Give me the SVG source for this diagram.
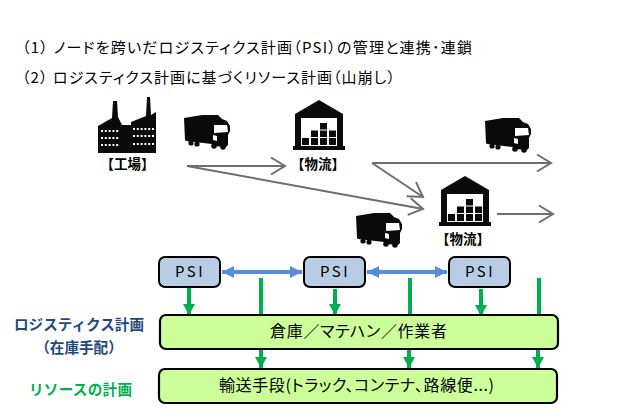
<svg xmlns="http://www.w3.org/2000/svg" width="634" height="420" viewBox="0 0 634 420">
  <style>
    text { font-family: "Noto Sans CJK JP", "Liberation Sans", sans-serif; fill: #000; }
    .head { font-size: 15px; font-feature-settings: "palt"; }
    .tag { font-size: 13.500px; font-weight: 700; text-anchor: middle; }
    .box { font-size: 16px; text-anchor: middle; font-feature-settings: "palt"; }
    .psi-label { font-size: 15px; letter-spacing: 2.500px; text-anchor: middle; }
    .psi { fill: #b8cce4; stroke: #000; stroke-width: 2; }
    .res { fill: #ccff99; stroke: #000; stroke-width: 2.2; }
    .flow { fill: none; stroke: #6e6e6e; stroke-width: 2; }
    .link { stroke: #558ed5; stroke-width: 4; fill: none; }
    .down { stroke: #00b050; stroke-width: 4; fill: none; }
    .side { font-size: 14.600px; font-weight: 700; text-anchor: middle; }
    .navy { fill: #1f497d; }
    .green { fill: #00b050; }
  </style>
  <defs>
    <marker id="headOpen" markerUnits="userSpaceOnUse" markerWidth="20" markerHeight="20" refX="16" refY="10" orient="auto">
      <path d="M2 1.500L16 10L2 18.500" fill="none" stroke="#6e6e6e" stroke-width="2"/>
    </marker>
    <marker id="headBlue" markerUnits="userSpaceOnUse" markerWidth="14" markerHeight="14" refX="12" refY="7" orient="auto-start-reverse">
      <path d="M0 1L12 7L0 13z" fill="#558ed5"/>
    </marker>
    <marker id="headGreen" markerUnits="userSpaceOnUse" markerWidth="14" markerHeight="14" refX="11" refY="7" orient="auto">
      <path d="M0 1L11 7L0 13z" fill="#00b050"/>
    </marker>
    <g id="truck">
      <path d="M0 4L18 1L34 1L38 5L43 7L46 12L46 17L44 21L44 31L42 33L30 32L28 30L2 27L1 26z" fill="#0a0a0a"/>
      <path d="M30 11L43 11L44 18L30 19z" fill="#fff"/>
      <path d="M29 21L33 22L33 27L29 26z" fill="#fff"/>
      <circle cx="7" cy="29" r="2.600" fill="#0a0a0a"/>
      <circle cx="13" cy="30" r="2.600" fill="#0a0a0a"/>
      <circle cx="30" cy="32" r="2.800" fill="#0a0a0a"/>
      <circle cx="39" cy="33" r="2.800" fill="#0a0a0a"/>
    </g>
    <g id="warehouse">
      <path d="M2 14L26 0L50 14L50 46L52 46L52 50L0 50L0 46L2 46z" fill="#0a0a0a"/>
      <rect x="8" y="18" width="36" height="28" fill="#fff"/>
      <g fill="#0a0a0a">
        <rect x="9" y="38" width="7" height="7"/>
        <rect x="18" y="38" width="7" height="7"/>
        <rect x="27" y="38" width="7" height="7"/>
        <rect x="36" y="38" width="7" height="7"/>
        <rect x="18" y="30.500" width="7" height="6.500"/>
        <rect x="27" y="30.500" width="7" height="6.500"/>
        <rect x="36" y="30.500" width="7" height="6.500"/>
        <rect x="27" y="23" width="7" height="6.500"/>
      </g>
    </g>
  </defs>

  <g id="headings">
    <text class="head" x="22" y="53" textLength="450">（1） ノードを跨いだロジスティクス計画（PSI）の管理と連携･連鎖</text>
    <text class="head" x="22" y="83" textLength="373">（2） ロジスティクス計画に基づくリソース計画（山崩し）</text>
  </g>

  <g id="factory">
    <path d="M98 153L98 126L112 118L113 101L117 101L118 117L122 125L131 125L131 122L146 116L147 97L150 97L151 115L156 112L156 153z" fill="#0a0a0a"/>
    <g stroke="#fff" stroke-width="2" stroke-dasharray="2 1.800" fill="none">
      <path d="M101 131H120M101 138H120M101 145H120M133 129H154M133 136H154M133 144H154"/>
    </g>
    <text class="tag" x="127.500" y="169">【工場】</text>
  </g>

  <g id="truck-a"><use href="#truck" x="184" y="114"/></g>
  <g id="truck-b"><use href="#truck" x="485" y="117"/></g>
  <g id="truck-c"><use href="#truck" x="356" y="212"/></g>

  <g id="warehouse-a">
    <use href="#warehouse" x="293" y="100"/>
    <text class="tag" x="318" y="169">【物流】</text>
  </g>
  <g id="warehouse-b">
    <use href="#warehouse" x="439" y="176"/>
    <text class="tag" x="463" y="244">【物流】</text>
  </g>

  <g id="connectors">
    <path class="flow" d="M187 166H285" marker-end="url(#headOpen)"/>
    <path class="flow" d="M187 166L423 209" marker-end="url(#headOpen)"/>
    <path class="flow" d="M372 163H551" marker-end="url(#headOpen)"/>
    <path class="flow" d="M372 163L423 197" marker-end="url(#headOpen)"/>
    <path class="flow" d="M497 214H553" marker-end="url(#headOpen)"/>
    <path class="link" d="M222 272H302" marker-start="url(#headBlue)" marker-end="url(#headBlue)"/>
    <path class="link" d="M367 272H447" marker-start="url(#headBlue)" marker-end="url(#headBlue)"/>
    <path class="down" d="M189 288V315" marker-end="url(#headGreen)"/>
    <path class="down" d="M261 278V314"/>
    <path class="down" d="M335 289V315" marker-end="url(#headGreen)"/>
    <path class="down" d="M410 278V314"/>
    <path class="down" d="M481 289V316" marker-end="url(#headGreen)"/>
    <path class="down" d="M539 278V314"/>
    <path class="down" d="M261 350V368" marker-end="url(#headGreen)"/>
    <path class="down" d="M409 350V368" marker-end="url(#headGreen)"/>
    <path class="down" d="M538 350V368" marker-end="url(#headGreen)"/>
  </g>

  <g id="psi-1"><rect class="psi" x="159" y="257" width="61" height="30" rx="6"/><text class="psi-label" x="190" y="277">PSI</text></g>
  <g id="psi-2"><rect class="psi" x="304" y="257" width="61" height="30" rx="6"/><text class="psi-label" x="335" y="277">PSI</text></g>
  <g id="psi-3"><rect class="psi" x="449" y="257" width="61" height="30" rx="6"/><text class="psi-label" x="480" y="277">PSI</text></g>

  <g id="warehouse-resources"><rect class="res" x="160" y="315" width="398" height="34" rx="6"/><text class="box" x="358.500" y="337" textLength="177">倉庫／マテハン／作業者</text></g>
  <g id="transport-resources"><rect class="res" x="159" y="369" width="398" height="34" rx="6"/><text class="box" x="356.500" y="391" textLength="275">輸送手段(トラック、コンテナ、路線便...)</text></g>

  <g id="row-labels">
    <text class="side navy" x="79" y="330">ロジスティクス計画</text>
    <text class="side navy" x="79" y="353">（在庫手配）</text>
    <text class="side green" x="80.500" y="395" textLength="103">リソースの計画</text>
  </g>
</svg>
